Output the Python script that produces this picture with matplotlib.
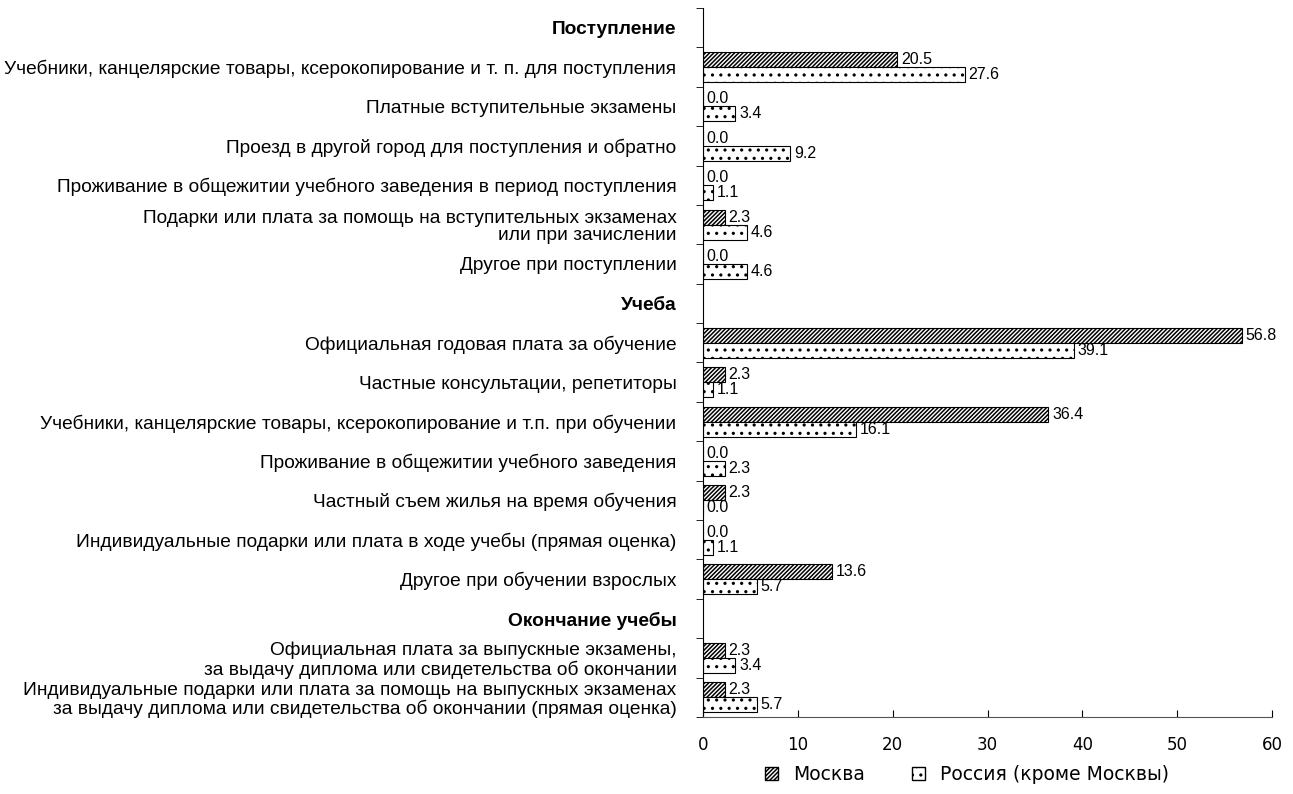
import numpy as np
import matplotlib
matplotlib.use('Agg')
import matplotlib.pyplot as plt
from matplotlib.patches import Patch

plt.rcParams['font.family'] = ['Liberation Sans Narrow', 'Liberation Sans', 'DejaVu Sans']
plt.rcParams['hatch.linewidth'] = 1.1

# rows from top to bottom; None marks a section heading without bars
labels = [
    'Поступление',
    'Учебники, канцелярские товары, ксерокопирование и т. п. для поступления',
    'Платные вступительные экзамены',
    'Проезд в другой город для поступления и обратно',
    'Проживание в общежитии учебного заведения в период поступления',
    'Подарки или плата за помощь на вступительных экзаменах\nили при зачислении',
    'Другое при поступлении',
    'Учеба',
    'Официальная годовая плата за обучение',
    'Частные консультации, репетиторы',
    'Учебники, канцелярские товары, ксерокопирование и т.п. при обучении',
    'Проживание в общежитии учебного заведения',
    'Частный съем жилья на время обучения',
    'Индивидуальные подарки или плата в ходе учебы (прямая оценка)',
    'Другое при обучении взрослых',
    'Окончание учебы',
    'Официальная плата за выпускные экзамены,\nза выдачу диплома или свидетельства об окончании',
    'Индивидуальные подарки или плата за помощь на выпускных экзаменах\nза выдачу диплома или свидетельства об окончании (прямая оценка)',
]
headers = [0, 7, 15]
moscow = [None, 20.5, 0.0, 0.0, 0.0, 2.3, 0.0,
          None, 56.8, 2.3, 36.4, 0.0, 2.3, 0.0, 13.6,
          None, 2.3, 2.3]
russia = [None, 27.6, 3.4, 9.2, 1.1, 4.6, 4.6,
          None, 39.1, 1.1, 16.1, 2.3, 0.0, 1.1, 5.7,
          None, 3.4, 5.7]
series_names = ['Москва', 'Россия (кроме Москвы)']

fig = plt.figure(figsize=(12.93, 7.94), dpi=100)
ax = fig.add_axes([0.5437, 0.097, 0.4401, 0.893])

y = np.arange(len(labels))
h = 0.38
idx = [i for i in range(len(labels)) if moscow[i] is not None]
mv = np.array([moscow[i] for i in idx])
rv = np.array([russia[i] for i in idx])
yi = y[idx]

ax.barh(yi - h / 2, mv, height=h, color='white', edgecolor='black',
        hatch='////////', linewidth=0.8)
ax.barh(yi + h / 2, rv, height=h, color='white', edgecolor='black',
        hatch='..', linewidth=0.8)

for yy, v in zip(yi, mv):
    ax.text(v + 0.4, yy - h / 2, f'{v:.1f}', va='center', ha='left', fontsize=11.5)
for yy, v in zip(yi, rv):
    ax.text(v + 0.4, yy + h / 2, f'{v:.1f}', va='center', ha='left', fontsize=11.5)

ax.set_ylim(len(labels) - 0.5, -0.5)
ax.set_xlim(0, 60)

ax.set_yticks(y)
ax.set_yticklabels(labels, fontsize=13.8, linespacing=1.05)
for i, t in enumerate(ax.get_yticklabels()):
    if i in headers:
        t.set_fontweight('bold')
ax.tick_params(axis='y', which='major', length=0, pad=19)
ax.set_yticks(np.arange(-0.5, len(labels)), minor=True)
ax.tick_params(axis='y', which='minor', length=5, direction='out')

ax.set_xticks(np.arange(0, 61, 10))
ax.tick_params(axis='x', length=5, direction='in', pad=14)
for t in ax.get_xticklabels():
    t.set_fontfamily('DejaVu Sans')
    t.set_fontsize(12)

ax.spines['top'].set_visible(False)
ax.spines['right'].set_visible(False)
ax.spines['bottom'].set_color('#555555')

handles = [Patch(facecolor='white', edgecolor='black', hatch='////////', label=series_names[0]),
           Patch(facecolor='white', edgecolor='black', hatch='..', label=series_names[1])]
fig.legend(handles=handles, loc='center', bbox_to_anchor=(0.748, 0.024), ncol=2,
           frameon=False, handlelength=0.7, handleheight=0.7, columnspacing=2.5,
           prop={'family': 'DejaVu Sans', 'size': 13.5})

fig.savefig('out.png', dpi=100)
